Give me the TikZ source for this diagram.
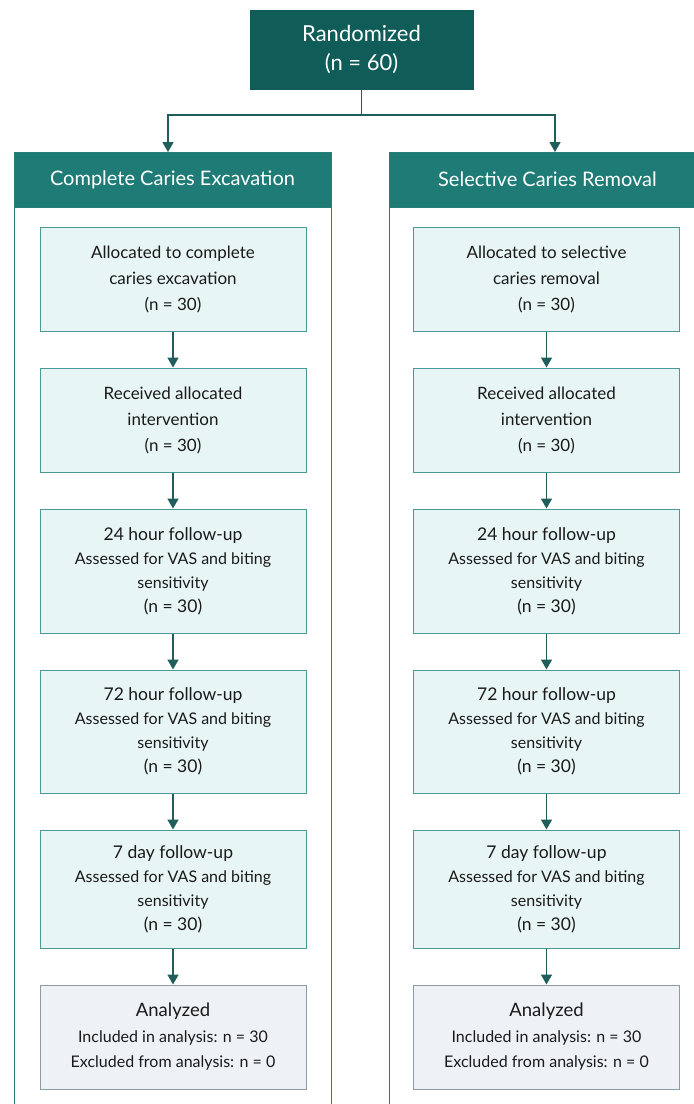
\documentclass[tikz,border=0pt]{standalone}
\usepackage{fontspec}
\setmainfont{Lato}
\usetikzlibrary{arrows.meta}
\definecolor{topfill}{HTML}{0F5C58}
\definecolor{headfill}{HTML}{1E7B76}
\definecolor{panelline}{HTML}{2B7D78}
\definecolor{boxfill}{HTML}{E8F5F5}
\definecolor{boxline}{HTML}{4A9996}
\definecolor{anfill}{HTML}{EEF2F6}
\definecolor{anline}{HTML}{8C9BA5}
\definecolor{arrowcol}{HTML}{1F5E5B}
\definecolor{txt}{HTML}{1A1A1A}
\tikzset{
  topbox/.style={draw=topfill, fill=topfill, text=white, align=center, minimum width=223pt, minimum height=79pt, inner sep=0pt, font=\fontsize{22}{29}\selectfont},
  headbox/.style={draw=panelline, line width=1pt, fill=headfill, text=white, minimum width=317pt, minimum height=55pt, inner sep=0pt, font=\fontsize{20}{24}\selectfont},
  stepbox/.style={draw=boxline, line width=1pt, fill=boxfill, text=txt, align=center, minimum width=266pt, inner sep=0pt, font=\fontsize{16}{24}\selectfont},
  anbox/.style={draw=anline, line width=1pt, fill=anfill, text=txt, align=center, minimum width=266pt, minimum height=104pt, inner sep=0pt, font=\fontsize{16}{25.5}\selectfont},
  arr/.style={draw=arrowcol, line width=1.6pt, -{Triangle[width=11pt,length=10pt]}},
  link/.style={draw=arrowcol, line width=1.6pt},
  paneldraw/.style={draw=panelline, line width=1pt}
}
\newcommand{\ttl}[1]{{\fontsize{17.5}{24}\selectfont #1}}
\begin{document}
\begin{tikzpicture}[x=1pt,y=-1pt]
\clip (0,0) rectangle (694,1104);
\fill[white] (0,0) rectangle (694,1104);
% panels
\draw[paneldraw] (14,1120) -- (14,152) -- (331,152) -- (331,1120);
\draw[paneldraw] (389,1120) -- (389,152) -- (706,152) -- (706,1120);
\node[headbox] (lhead) at (172.5,179.5) {Complete Caries Excavation};
\node[headbox] (rhead) at (547.5,179.5) {Selective Caries Removal};
% top
\node[topbox] (top) at (361.5,49.5) {Randomized\\(n = 60)};
\coordinate (split) at (361.5,115);
\coordinate (lin) at (168,152);
\coordinate (rin) at (555,152);
\draw[link] (top.south) -- (split);
\draw[arr] (split) -| (lin);
\draw[arr] (split) -| (rin);
% left column
\node[stepbox, minimum height=104pt, font=\fontsize{17}{26}\selectfont] (l1) at (173,279) {Allocated to complete\\caries excavation\\(n = 30)};
\node[stepbox, minimum height=104pt, font=\fontsize{17}{26}\selectfont] (l2) at (173,420) {Received allocated\\intervention\\(n = 30)};
\node[stepbox, minimum height=124pt] (l3) at (173,571) {\ttl{24 hour follow-up}\\Assessed for VAS and biting\\sensitivity\\\ttl{(n = 30)}};
\node[stepbox, minimum height=123pt] (l4) at (173,731.5) {\ttl{72 hour follow-up}\\Assessed for VAS and biting\\sensitivity\\\ttl{(n = 30)}};
\node[stepbox, minimum height=118pt] (l5) at (173,889) {\ttl{7 day follow-up}\\Assessed for VAS and biting\\sensitivity\\\ttl{(n = 30)}};
\node[anbox] (l6) at (173,1037) {{\fontsize{18.5}{26}\selectfont Analyzed}\\Included in analysis: n = 30\\Excluded from analysis: n = 0};
% right column
\node[stepbox, minimum height=104pt, font=\fontsize{17}{26}\selectfont] (r1) at (546.5,279) {Allocated to selective\\caries removal\\(n = 30)};
\node[stepbox, minimum height=104pt, font=\fontsize{17}{26}\selectfont] (r2) at (546.5,420) {Received allocated\\intervention\\(n = 30)};
\node[stepbox, minimum height=124pt] (r3) at (546.5,571) {\ttl{24 hour follow-up}\\Assessed for VAS and biting\\sensitivity\\\ttl{(n = 30)}};
\node[stepbox, minimum height=123pt] (r4) at (546.5,731.5) {\ttl{72 hour follow-up}\\Assessed for VAS and biting\\sensitivity\\\ttl{(n = 30)}};
\node[stepbox, minimum height=118pt] (r5) at (546.5,889) {\ttl{7 day follow-up}\\Assessed for VAS and biting\\sensitivity\\\ttl{(n = 30)}};
\node[anbox] (r6) at (546.5,1037) {{\fontsize{18.5}{26}\selectfont Analyzed}\\Included in analysis: n = 30\\Excluded from analysis: n = 0};
% arrows
\foreach \a/\b in {l1/l2,l2/l3,l3/l4,l4/l5,l5/l6,r1/r2,r2/r3,r3/r4,r4/r5,r5/r6}
  \draw[arr] (\a.south) -- (\b.north);
\end{tikzpicture}
\end{document}
